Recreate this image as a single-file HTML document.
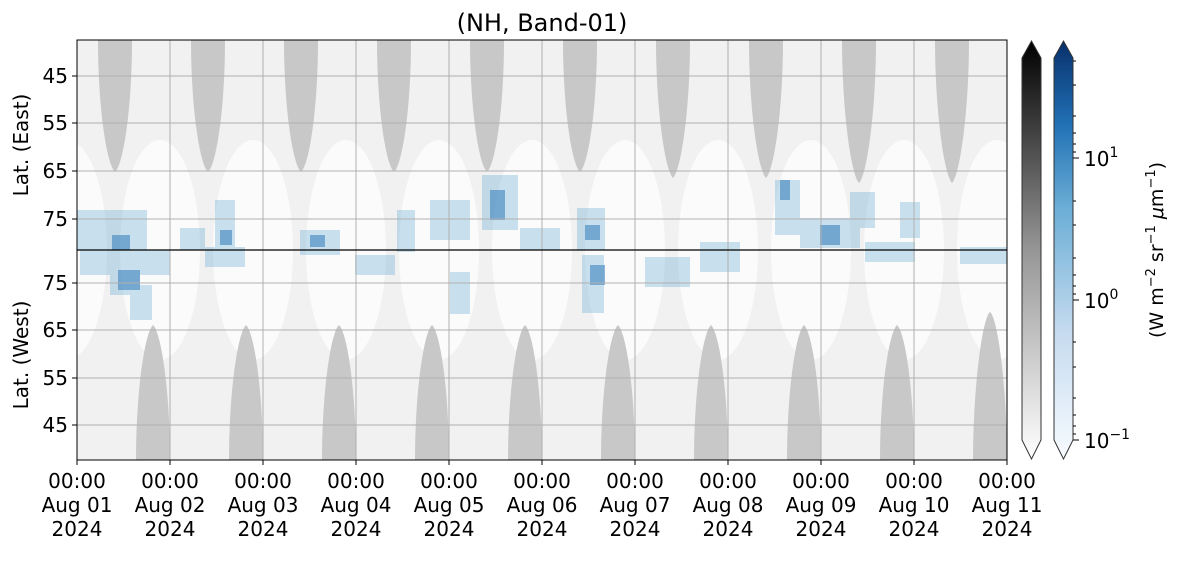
<!DOCTYPE html>
<html><head><meta charset="utf-8"><style>
body{margin:0;background:#fff;}
svg text{font-family:"DejaVu Sans","Liberation Sans",sans-serif;fill:#000;}
</style></head><body>
<svg width="1181" height="556" viewBox="0 0 1181 556" xmlns="http://www.w3.org/2000/svg">
<defs>
<linearGradient id="gk" x1="0" y1="1" x2="0" y2="0"><stop offset="0" stop-color="#fff"/><stop offset="0.5" stop-color="#969696"/><stop offset="1" stop-color="#000"/></linearGradient>
<linearGradient id="gb" x1="0" y1="1" x2="0" y2="0"><stop offset="0" stop-color="#f7fbff"/><stop offset="0.3" stop-color="#c6dbef"/><stop offset="0.6" stop-color="#6baed6"/><stop offset="0.8" stop-color="#2171b5"/><stop offset="1" stop-color="#08306b"/></linearGradient>
<clipPath id="cp"><rect x="77" y="40" width="930" height="420"/></clipPath>
</defs>
<text x="542" y="31" font-size="24" text-anchor="middle">(NH, Band-01)</text>
<g clip-path="url(#cp)">
<rect x="77" y="40" width="930" height="420" fill="#f1f1f1"/>
<g fill="#fbfbfb">
<ellipse cx="160" cy="250" rx="40" ry="110"/><ellipse cx="253" cy="250" rx="40" ry="110"/><ellipse cx="346" cy="250" rx="40" ry="110"/><ellipse cx="439" cy="250" rx="40" ry="110"/><ellipse cx="532" cy="250" rx="40" ry="110"/><ellipse cx="625" cy="250" rx="40" ry="110"/><ellipse cx="718" cy="250" rx="40" ry="110"/><ellipse cx="811" cy="250" rx="40" ry="110"/><ellipse cx="904" cy="250" rx="40" ry="110"/><ellipse cx="997" cy="250" rx="40" ry="110"/><ellipse cx="67" cy="250" rx="40" ry="110"/>
</g>
<g fill="#c8c8c8">
<path d="M98 40 C98 110,107 165,115 172 C123 165,132 110,132 40Z"/>
<path d="M191 40 C191 110,200 165,208 172 C216 165,225 110,225 40Z"/>
<path d="M284 40 C284 110,293 165,301 172 C309 165,318 110,318 40Z"/>
<path d="M377 40 C377 110,386 165,394 172 C402 165,411 110,411 40Z"/>
<path d="M470 40 C470 110,479 165,487 172 C495 165,504 110,504 40Z"/>
<path d="M563 40 C563 110,572 165,580 172 C588 165,597 110,597 40Z"/>
<path d="M656 40 C656 110,665 170,673 178 C681 170,690 110,690 40Z"/>
<path d="M749 40 C749 110,758 170,766 178 C774 170,783 110,783 40Z"/>
<path d="M842 40 C842 110,851 175,859 183 C867 175,876 110,876 40Z"/>
<path d="M935 40 C935 110,944 175,952 183 C960 175,969 110,969 40Z"/>
<path d="M136 460 C136 390,145 332,153 325 C161 332,170 390,170 460Z"/>
<path d="M229 460 C229 390,238 332,246 325 C254 332,263 390,263 460Z"/>
<path d="M322 460 C322 390,331 332,339 325 C347 332,356 390,356 460Z"/>
<path d="M415 460 C415 390,424 332,432 325 C440 332,449 390,449 460Z"/>
<path d="M508 460 C508 390,517 332,525 325 C533 332,542 390,542 460Z"/>
<path d="M601 460 C601 390,610 332,618 325 C626 332,635 390,635 460Z"/>
<path d="M694 460 C694 390,703 332,711 325 C719 332,728 390,728 460Z"/>
<path d="M787 460 C787 390,796 332,804 325 C812 332,821 390,821 460Z"/>
<path d="M880 460 C880 390,889 332,897 325 C905 332,914 390,914 460Z"/>
<path d="M973 460 C973 390,982 318,990 312 C998 318,1007 390,1007 460Z"/>
</g>
<g fill="#6baed6" opacity="0.35">
<rect x="77" y="210" width="70" height="40"/><rect x="80" y="250" width="90" height="25"/><rect x="110" y="270" width="30" height="25"/><rect x="130" y="285" width="22" height="35"/>
<rect x="180" y="228" width="25" height="22"/><rect x="205" y="247" width="40" height="20"/><rect x="215" y="200" width="20" height="50"/>
<rect x="300" y="230" width="40" height="25"/><rect x="355" y="255" width="40" height="20"/><rect x="397" y="210" width="18" height="42"/>
<rect x="430" y="200" width="40" height="40"/><rect x="482" y="175" width="36" height="55"/><rect x="450" y="272" width="20" height="42"/>
<rect x="520" y="228" width="40" height="22"/><rect x="577" y="208" width="28" height="42"/><rect x="582" y="255" width="22" height="58"/>
<rect x="645" y="257" width="45" height="30"/><rect x="700" y="242" width="40" height="30"/>
<rect x="775" y="180" width="25" height="55"/><rect x="800" y="218" width="60" height="30"/><rect x="850" y="192" width="25" height="36"/>
<rect x="865" y="242" width="50" height="20"/><rect x="900" y="202" width="20" height="36"/><rect x="960" y="247" width="47" height="17"/>
</g>
<g fill="#2171b5" opacity="0.5">
<rect x="112" y="235" width="18" height="15"/><rect x="118" y="270" width="22" height="20"/><rect x="220" y="230" width="12" height="15"/><rect x="310" y="235" width="15" height="12"/><rect x="490" y="190" width="15" height="30"/><rect x="585" y="225" width="15" height="15"/><rect x="590" y="265" width="15" height="20"/><rect x="820" y="225" width="20" height="20"/><rect x="780" y="180" width="10" height="20"/></g>
<g stroke="#b0b0b0" stroke-width="1" fill="none">
<path d="M170 40V460M263 40V460M356 40V460M449 40V460M542 40V460M635 40V460M728 40V460M821 40V460M914 40V460"/>
<path d="M77 76H1007M77 123H1007M77 171H1007M77 219H1007M77 283H1007M77 330H1007M77 378H1007M77 425H1007"/>
</g>
<line x1="77" y1="250" x2="1007" y2="250" stroke="#000" stroke-width="1.2"/>
</g>
<rect x="77" y="40" width="930" height="420" fill="none" stroke="#000" stroke-width="1"/>
<g stroke="#000" stroke-width="1">
<path d="M72 76H77M72 123H77M72 171H77M72 219H77M72 283H77M72 330H77M72 378H77M72 425H77"/>
<path d="M77 460V465M170 460V465M263 460V465M356 460V465M449 460V465M542 460V465M635 460V465M728 460V465M821 460V465M914 460V465M1007 460V465"/>
</g>
<g font-size="20" text-anchor="end">
<text x="68" y="83">45</text><text x="68" y="130">55</text><text x="68" y="178">65</text><text x="68" y="226">75</text>
<text x="68" y="290">75</text><text x="68" y="337">65</text><text x="68" y="385">55</text><text x="68" y="432">45</text>
</g>
<text transform="translate(28,145) rotate(-90)" font-size="20" text-anchor="middle">Lat. (East)</text>
<text transform="translate(28,355) rotate(-90)" font-size="20" text-anchor="middle">Lat. (West)</text>
<g font-size="20" text-anchor="middle">
<text x="77" y="488">00:00</text><text x="77" y="512">Aug 01</text><text x="77" y="536">2024</text>
<text x="170" y="488">00:00</text><text x="170" y="512">Aug 02</text><text x="170" y="536">2024</text>
<text x="263" y="488">00:00</text><text x="263" y="512">Aug 03</text><text x="263" y="536">2024</text>
<text x="356" y="488">00:00</text><text x="356" y="512">Aug 04</text><text x="356" y="536">2024</text>
<text x="449" y="488">00:00</text><text x="449" y="512">Aug 05</text><text x="449" y="536">2024</text>
<text x="542" y="488">00:00</text><text x="542" y="512">Aug 06</text><text x="542" y="536">2024</text>
<text x="635" y="488">00:00</text><text x="635" y="512">Aug 07</text><text x="635" y="536">2024</text>
<text x="728" y="488">00:00</text><text x="728" y="512">Aug 08</text><text x="728" y="536">2024</text>
<text x="821" y="488">00:00</text><text x="821" y="512">Aug 09</text><text x="821" y="536">2024</text>
<text x="914" y="488">00:00</text><text x="914" y="512">Aug 10</text><text x="914" y="536">2024</text>
<text x="1007" y="488">00:00</text><text x="1007" y="512">Aug 11</text><text x="1007" y="536">2024</text>
</g>
<path d="M1022 58 L1031.5 41 L1041 58 V440 L1031.5 459 L1022 440Z" fill="url(#gk)" stroke="#333" stroke-width="1"/>
<path d="M1054 58 L1063.5 41 L1073 58 V440 L1063.5 459 L1054 440Z" fill="url(#gb)" stroke="#333" stroke-width="1"/>
<g stroke="#000" stroke-width="1">
<path d="M1073 158H1079M1073 300H1079M1073 440H1079"/>
<path d="M1073 61H1076M1073 85H1076M1073 116H1076M1073 133H1076M1073 144H1076M1073 152H1076M1073 201H1076M1073 225H1076M1073 258H1076M1073 275H1076M1073 286H1076M1073 294H1076M1073 342H1076M1073 367H1076M1073 398H1076M1073 415H1076M1073 426H1076M1073 434H1076"/>
</g>
<g font-size="20">
<text x="1084" y="166">10<tspan dy="-9" font-size="14">1</tspan></text>
<text x="1084" y="308">10<tspan dy="-9" font-size="14">0</tspan></text>
<text x="1084" y="448">10<tspan dy="-9" font-size="14">−1</tspan></text>
</g>
<text transform="translate(1163,250) rotate(-90)" font-size="19" text-anchor="middle">(W m<tspan dy="-8" font-size="13">−2</tspan><tspan dy="8"> sr</tspan><tspan dy="-8" font-size="13">−1</tspan><tspan dy="8"> </tspan><tspan font-style="italic">μ</tspan>m<tspan dy="-8" font-size="13">−1</tspan><tspan dy="8">)</tspan></text>
</svg>
</body></html>
